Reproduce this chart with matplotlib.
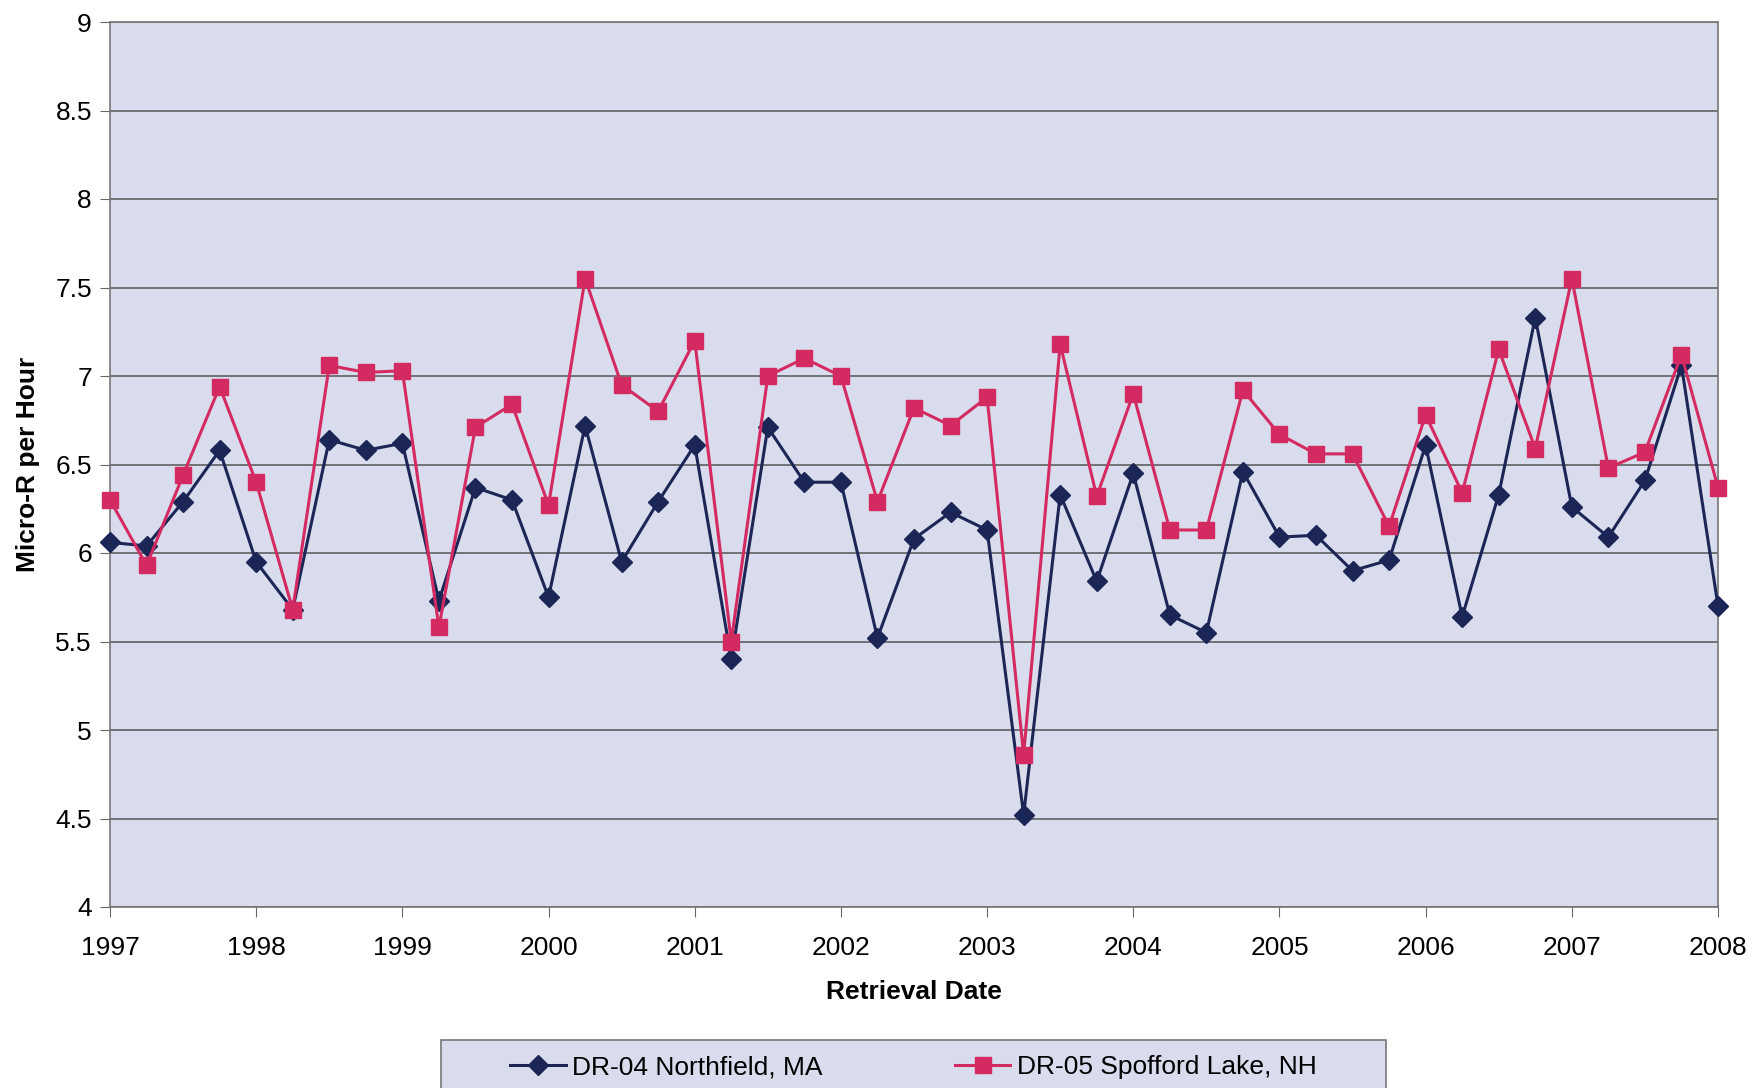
import matplotlib
matplotlib.use("Agg")
import matplotlib.pyplot as plt
from matplotlib.patches import Rectangle
import numpy as np

plt.rcParams["font.family"] = ["Liberation Sans", "DejaVu Sans"]

# quarterly retrievals, 1997.00 .. 2008.00
start_year = 1997
northfield = [
    6.06, 6.04, 6.29, 6.58, 5.95, 5.68, 6.64, 6.58, 6.62, 5.73, 6.37, 6.30,
    5.75, 6.72, 5.95, 6.29, 6.61, 5.40, 6.71, 6.40, 6.40, 5.52, 6.08, 6.23,
    6.13, 4.52, 6.33, 5.84, 6.45, 5.65, 5.55, 6.46, 6.09, 6.10, 5.90, 5.96,
    6.61, 5.64, 6.33, 7.33, 6.26, 6.09, 6.41, 7.06, 5.70,
]
spofford = [
    6.30, 5.93, 6.44, 6.94, 6.40, 5.68, 7.06, 7.02, 7.03, 5.58, 6.71, 6.84,
    6.27, 7.55, 6.95, 6.80, 7.20, 5.50, 7.00, 7.10, 7.00, 6.29, 6.82, 6.72,
    6.88, 4.86, 7.18, 6.32, 6.90, 6.13, 6.13, 6.92, 6.67, 6.56, 6.56, 6.15,
    6.78, 6.34, 7.15, 6.59, 7.55, 6.48, 6.57, 7.12, 6.37,
]
series_labels = ["DR-04 Northfield, MA", "DR-05 Spofford Lake, NH"]
year_ticks = list(range(1997, 2009))
y_ticks = [4, 4.5, 5, 5.5, 6, 6.5, 7, 7.5, 8, 8.5, 9]
y_tick_labels = ["4", "4.5", "5", "5.5", "6", "6.5", "7", "7.5", "8", "8.5", "9"]

dates = start_year + np.arange(len(northfield)) * 0.25

bg = "#d9dcec"
navy = "#1c2656"
pink = "#d42a62"
W, H = 1753, 1088

fig = plt.figure(figsize=(W / 100, H / 100), dpi=100)
ax = fig.add_axes([110 / W, 1 - 907 / H, (1718 - 110) / W, (907 - 22) / H])
ax.set_facecolor(bg)

ax.plot(dates, northfield, color=navy, lw=2.2, marker="D", ms=10,
        mfc=navy, mec=navy, label=series_labels[0], clip_on=False, zorder=3)
ax.plot(dates, spofford, color=pink, lw=2.2, marker="s", ms=11,
        mfc=pink, mec=pink, label=series_labels[1], clip_on=False, zorder=3)

ax.set_xlim(1997, 2008)
ax.set_ylim(4, 9)
ax.set_xticks(year_ticks)
ax.set_xticklabels([str(y) for y in year_ticks], fontsize=19)
ax.set_yticks(y_ticks)
ax.set_yticklabels(y_tick_labels, fontsize=19)
ax.yaxis.grid(True, color="#555555", lw=1.1)
ax.set_axisbelow(True)
ax.tick_params(axis="both", direction="out", length=7, color="#666666", pad=6)
ax.tick_params(axis="x", pad=14)
for side in ["left", "bottom", "top", "right"]:
    ax.spines[side].set_color("#777777")
    ax.spines[side].set_linewidth(1.2)

ax.set_xlabel("Retrieval Date", fontsize=19, fontweight="bold", labelpad=14)
ax.set_ylabel("Micro-R per Hour", fontsize=19, fontweight="bold", labelpad=11)

# legend box runs off the bottom edge of the figure
box_left, box_right, box_top = 441, 1386, 1040
fig.patches.append(Rectangle((box_left / W, -0.02), (box_right - box_left) / W,
                             (H - box_top) / H + 0.02, transform=fig.transFigure,
                             facecolor=bg, edgecolor="#777777", lw=1.2, zorder=0))
leg = fig.legend(loc="center", bbox_to_anchor=((box_left + box_right) / 2 / W, 1 - 1067 / H),
                 ncol=2, fontsize=19, frameon=False, handlelength=2.1,
                 handletextpad=0.25, columnspacing=5.0)

fig.savefig("out.png", dpi=100)
